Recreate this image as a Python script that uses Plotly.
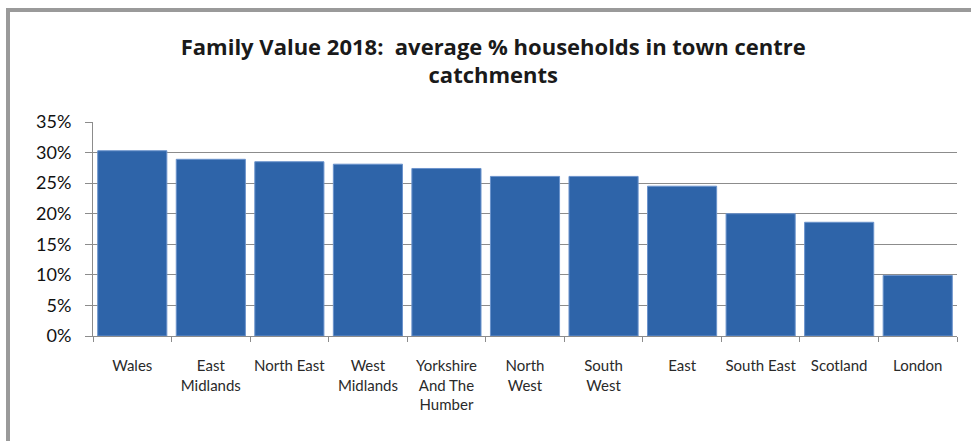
import plotly.graph_objects as go

# Regions and their average share of households in town centre catchments
regions = ["Wales", "East<br>Midlands", "North East", "West<br>Midlands",
           "Yorkshire<br>And The<br>Humber", "North<br>West", "South<br>West",
           "East", "South East", "Scotland", "London"]
share_pct = [30.3, 28.9, 28.5, 28.1, 27.4, 26.1, 26.1, 24.5, 20.0, 18.6, 9.9]
y_ticks = [0, 5, 10, 15, 20, 25, 30, 35]
y_tick_labels = [f"{v}%" for v in y_ticks]

W, H = 971, 441
ML, MR, MT, MB = 93, 14, 122, 105
PW, PH = W - ML - MR, H - MT - MB


def px_x(x):
    return (x - ML) / PW


def px_y(y):
    return (H - MB - y) / PH


fig = go.Figure(go.Bar(
    x=regions,
    y=share_pct,
    marker=dict(color="#2E64A9", line=dict(color="#6b93cc", width=1)),
    hoverinfo="x+y",
))

frame = "#9a9a9a"
fig.update_layout(
    width=W, height=H,
    margin=dict(l=ML, r=MR, t=MT, b=MB),
    paper_bgcolor="white",
    plot_bgcolor="white",
    bargap=0.12,
    showlegend=False,
    title=dict(
        text="<b>Family Value 2018:  average % households in town centre<br>catchments</b>",
        x=0.508, xanchor="center", y=0.876, yanchor="top",
        font=dict(family="Open Sans", size=22, color="#1a1a1a"),
    ),
    font=dict(family="Lato", color="#222"),
    shapes=[
        dict(type="line", xref="paper", yref="paper",
             x0=px_x(6), x1=px_x(W), y0=px_y(10), y1=px_y(10),
             line=dict(color=frame, width=4)),
        dict(type="line", xref="paper", yref="paper",
             x0=px_x(8), x1=px_x(8), y0=px_y(8), y1=px_y(H + 2),
             line=dict(color=frame, width=4)),
    ],
)

fig.update_yaxes(
    range=[0, 35],
    tickvals=y_ticks,
    ticktext=y_tick_labels,
    showgrid=True, gridcolor="#8c8c8c", gridwidth=1,
    showline=True, linecolor="#8c8c8c", linewidth=1,
    ticks="outside", ticklen=7, tickcolor="#8c8c8c",
    tickfont=dict(family="Lato", size=18, color="#111"),
    ticklabelstandoff=10,
    zeroline=False,
    fixedrange=True,
)
fig.update_xaxes(
    showline=True, linecolor="#8c8c8c", linewidth=1,
    ticks="outside", ticklen=5, tickcolor="#8c8c8c",
    tickson="boundaries",
    tickfont=dict(family="Lato", size=15, color="#2a2a2a"),
    ticklabelstandoff=16,
    tickangle=0,
    fixedrange=True,
)

fig.write_html("out.html")
